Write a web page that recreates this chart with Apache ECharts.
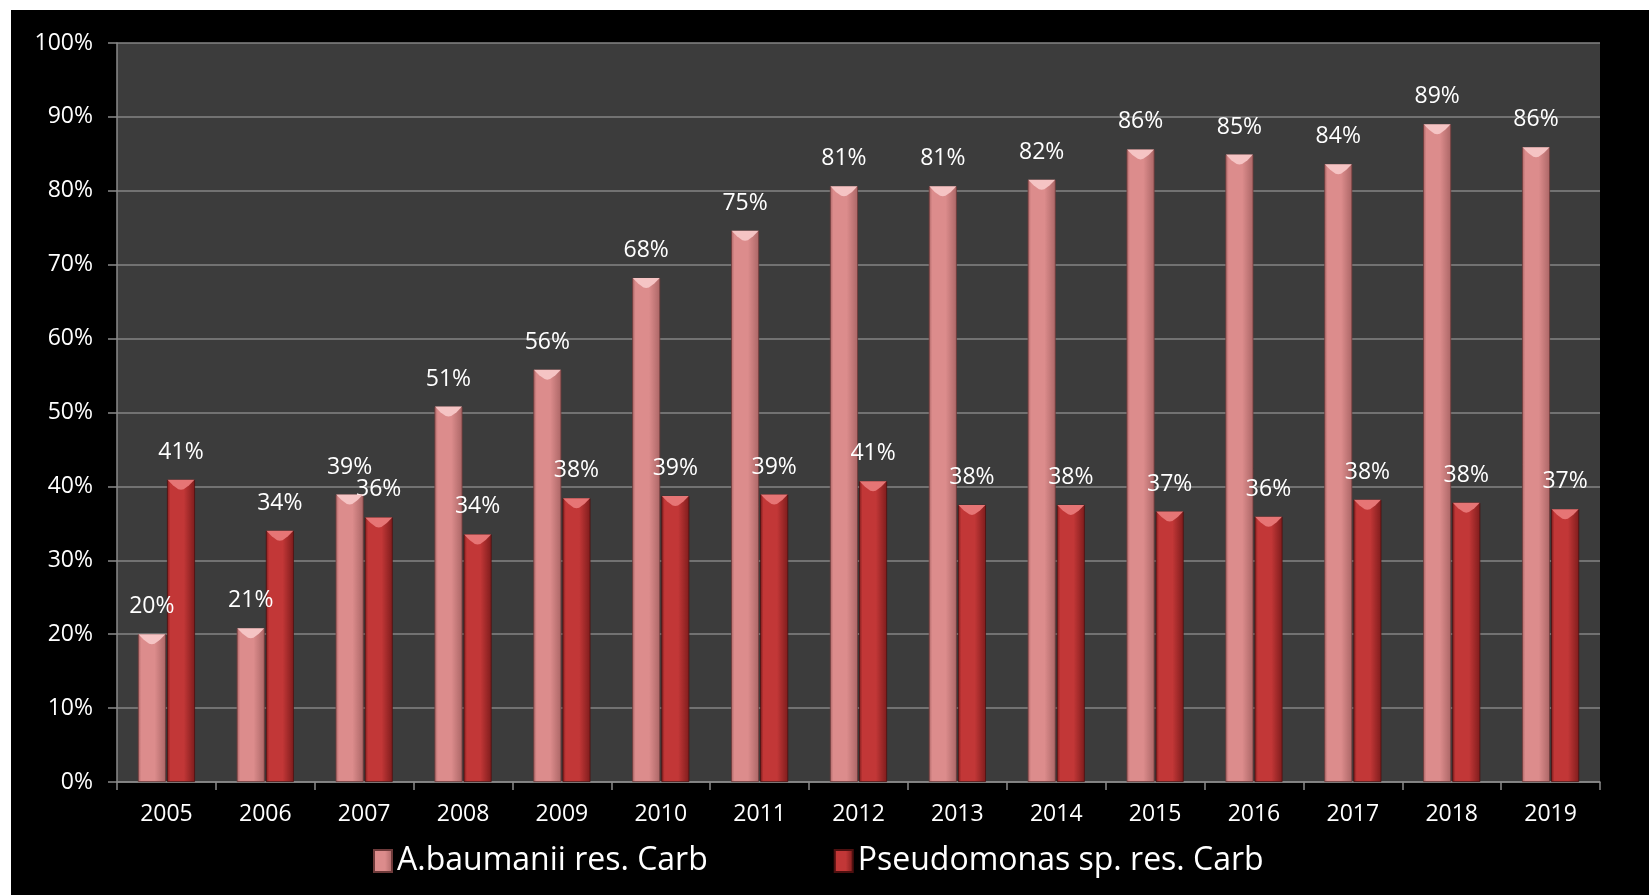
<!DOCTYPE html>
<html>
<head>
<meta charset="utf-8">
<script src="https://cdn.jsdelivr.net/npm/echarts@6/dist/echarts.min.js"></script>
<style>
  html, body { margin: 0; padding: 0; background: #ffffff; width: 1649px; height: 895px; overflow: hidden; }
  #chart { position: absolute; left: 11px; top: 10px; width: 1638px; height: 885px; background: #000000; }
</style>
</head>
<body>
<div id="chart"></div>
<script>
const years = ['2005','2006','2007','2008','2009','2010','2011','2012','2013','2014','2015','2016','2017','2018','2019'];
const seriesNames = ['A.baumanii res. Carb', 'Pseudomonas sp. res. Carb'];
const abaumanii = [20.0, 20.8, 38.9, 50.8, 55.8, 68.2, 74.6, 80.6, 80.6, 81.5, 85.6, 84.9, 83.6, 89.0, 85.9];
const pseudomonas = [40.9, 34.0, 35.8, 33.5, 38.4, 38.7, 38.9, 40.7, 37.5, 37.5, 36.6, 35.9, 38.2, 37.8, 36.9];
const yTicks = [0, 10, 20, 30, 40, 50, 60, 70, 80, 90, 100];

const FONT = '"Open Sans", sans-serif';

function hGrad(edge, mid) {
  return new echarts.graphic.LinearGradient(0, 0, 1, 0, [
    { offset: 0, color: edge },
    { offset: 0.12, color: mid },
    { offset: 0.6, color: mid },
    { offset: 1, color: edge }
  ]);
}
const pinkFill = hGrad('#ab6666', '#dc8c8c');
const redFill = hGrad('#7e1c1c', '#c23737');

const chart = echarts.init(document.getElementById('chart'), null, { renderer: 'canvas' });

const labelCfg = {
  show: true,
  position: 'top',
  distance: 16,
  color: '#ffffff',
  fontFamily: FONT,
  fontSize: 23,
  formatter: p => Math.round(p.value) + '%'
};

const bevel = 'path://M0,0 L10,0 L8,2 L6,3.4 L5,3.6 L4,3.4 L2,2 Z';

chart.setOption({
  backgroundColor: '#000000',
  animation: false,
  grid: {
    left: 106, right: 49, top: 33, bottom: 113,
    show: true, backgroundColor: '#3c3c3c', borderWidth: 0
  },
  legend: {
    data: seriesNames,
    left: 357,
    top: 830,
    itemWidth: 18,
    itemHeight: 22,
    itemGap: 126,
    itemTextGap: 8,
    icon: 'rect',
    textStyle: { color: '#ffffff', fontFamily: FONT, fontSize: 32 }
  },
  xAxis: {
    type: 'category',
    data: years,
    axisLine: { lineStyle: { color: '#8a8a8a', width: 1.5 } },
    axisTick: { show: true, length: 8, lineStyle: { color: '#8a8a8a', width: 1.5 } },
    axisLabel: { color: '#ffffff', fontFamily: FONT, fontSize: 23, margin: 21 }
  },
  yAxis: {
    type: 'value',
    min: yTicks[0],
    max: yTicks[yTicks.length - 1],
    interval: 10,
    axisLine: { show: true, lineStyle: { color: '#8a8a8a', width: 1.5 } },
    axisTick: { show: true, length: 9, lineStyle: { color: '#8a8a8a', width: 1.5 } },
    splitLine: { lineStyle: { color: '#858585', width: 1.5 } },
    axisLabel: { color: '#ffffff', fontFamily: FONT, fontSize: 23, margin: 24, formatter: v => v + '%' }
  },
  series: [
    {
      name: seriesNames[0],
      type: 'bar',
      data: abaumanii,
      barWidth: 28,
      barGap: '4%',
      itemStyle: { color: pinkFill, borderColor: '#6e3a3a', borderWidth: 0.8 },
      label: labelCfg,
      z: 2
    },
    {
      name: seriesNames[1],
      type: 'bar',
      data: pseudomonas,
      barWidth: 28,
      barGap: '4%',
      itemStyle: { color: redFill, borderColor: '#4e1010', borderWidth: 0.8 },
      label: labelCfg,
      z: 2
    },
    {
      name: seriesNames[0] + ' top',
      type: 'pictorialBar',
      data: abaumanii,
      barWidth: 28,
      barGap: '4%',
      symbol: bevel,
      symbolSize: [27, 10],
      symbolPosition: 'end',
      symbolOffset: [0, 0],
      itemStyle: { color: '#f5c4c4' },
      legendHoverLink: false,
      silent: true,
      z: 3
    },
    {
      name: seriesNames[1] + ' top',
      type: 'pictorialBar',
      data: pseudomonas,
      barWidth: 28,
      barGap: '4%',
      symbol: bevel,
      symbolSize: [27, 10],
      symbolPosition: 'end',
      symbolOffset: [0, 0],
      itemStyle: { color: '#e67575' },
      legendHoverLink: false,
      silent: true,
      z: 3
    }
  ]
});
</script>
</body>
</html>
